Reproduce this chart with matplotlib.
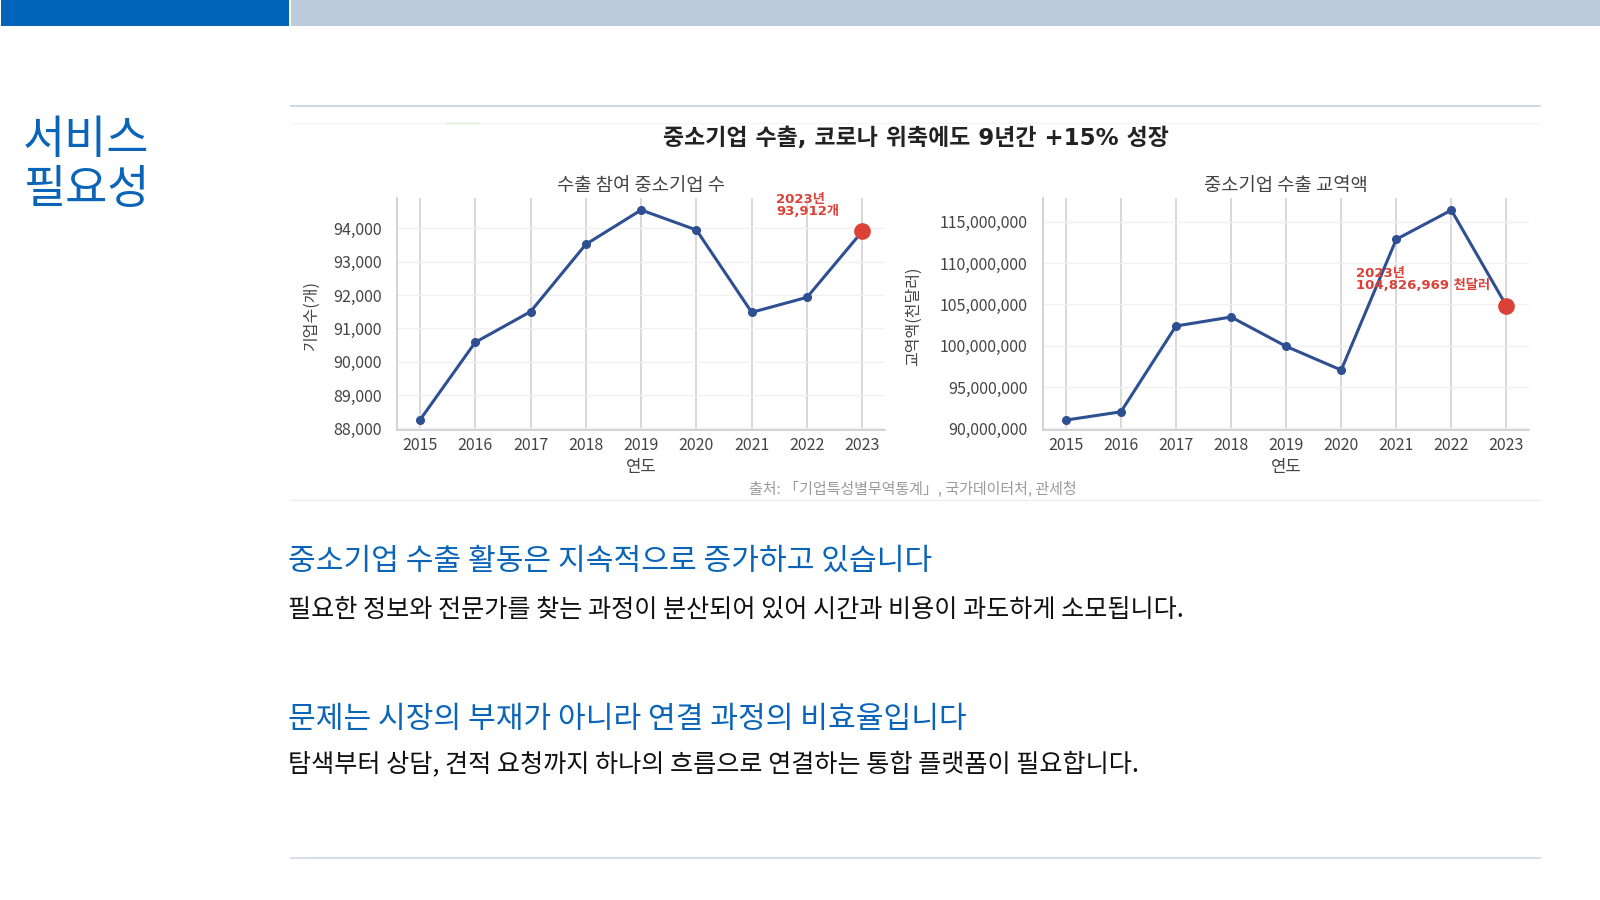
import matplotlib
matplotlib.use('Agg')
import matplotlib.pyplot as plt
from matplotlib.patches import Rectangle
from matplotlib.ticker import FuncFormatter, MultipleLocator

plt.rcParams['font.family'] = ['Noto Sans CJK KR', 'DejaVu Sans']
MIXED = ['DejaVu Sans', 'Noto Sans CJK KR']   # wide latin digits, hangul fallback

# data
years = [2015, 2016, 2017, 2018, 2019, 2020, 2021, 2022, 2023]
firms = [88250, 90580, 91500, 93520, 94550, 93950, 91480, 91930, 93912]
trade = [91.0e6, 92.0e6, 102.38e6, 103.47e6, 99.92e6, 97.05e6, 112.87e6, 116.4e6, 104826969]

page_title = ['서비스', '필요성']
chart_title = '중소기업 수출, 코로나 위축에도 9년간 +15% 성장'
left_title = '수출 참여 중소기업 수'
right_title = '중소기업 수출 교역액'
left_ylabel = '기업수(개)'
right_ylabel = '교역액(천달러)'
xlabel = '연도'
source = '출처: 「기업특성별무역통계」, 국가데이터처, 관세청'
left_note = '2023년\n93,912개'
right_note = '2023년\n104,826,969 천달러'
headings = ['중소기업 수출 활동은 지속적으로 증가하고 있습니다',
            '문제는 시장의 부재가 아니라 연결 과정의 비효율입니다']
bodies = ['필요한 정보와 전문가를 찾는 과정이 분산되어 있어 시간과 비용이 과도하게 소모됩니다.',
          '탐색부터 상담, 견적 요청까지 하나의 흐름으로 연결하는 통합 플랫폼이 필요합니다.']

BLUE = '#0A64B8'
LINE = '#2E4F92'
RED = '#DB4136'
GREY = '#444444'

fig = plt.figure(figsize=(16, 9), dpi=100)
fig.patch.set_facecolor('white')

# page decoration layer in pixel coords
bg = fig.add_axes([0, 0, 1, 1], zorder=-5)
bg.set_xlim(0, 1600)
bg.set_ylim(900, 0)
bg.axis('off')
bg.add_patch(Rectangle((1, 0), 288, 26, color='#0064B8', lw=0))
bg.add_patch(Rectangle((291, 0), 1309, 26, color='#BCCBDB', lw=0))
bg.plot([291, 1540], [106, 106], color='#C9D5E4', lw=1.3)
bg.plot([291, 1540], [123, 123], color='#F3F5F3', lw=1)
bg.plot([446, 480], [123, 123], color='#E2F0DA', lw=1)
bg.plot([291, 1540], [500, 500], color='#E6F2E3', lw=1)
bg.plot([291, 1540], [858, 858], color='#D3DCE8', lw=1.3)

bg.text(23, 140, page_title[0], fontsize=33, color=BLUE, va='center', ha='left')
bg.text(23, 190, page_title[1], fontsize=33, color=BLUE, va='center', ha='left')

bg.text(916, 138, chart_title, fontsize=16.5, fontweight='bold', color='#222222',
        ha='center', va='center', family=MIXED)
bg.text(913, 488, source, fontsize=10.8, color='#9A9A9A', ha='center', va='center')

bg.text(288, 561, headings[0], fontsize=21.7, color=BLUE, va='center', ha='left')
bg.text(288, 610, bodies[0], fontsize=18.1, color='#111111', va='center', ha='left')
bg.text(288, 719, headings[1], fontsize=21.7, color=BLUE, va='center', ha='left')
bg.text(288, 764, bodies[1], fontsize=18.1, color='#111111', va='center', ha='left')


def style_axis(ax, title, ylabel, ylim, ystep, ylabel_x):
    ax.set_xlim(2014.58, 2023.41)
    ax.set_ylim(*ylim)
    ax.set_xticks(years)
    ax.yaxis.set_major_locator(MultipleLocator(ystep))
    ax.yaxis.set_major_formatter(FuncFormatter(lambda v, p: f'{int(round(v)):,}'))
    ax.grid(axis='x', color='#D5D5D5', lw=1.3)
    ax.grid(axis='y', color='#F0F0F0', lw=1)
    ax.set_axisbelow(True)
    for s in ['top', 'right']:
        ax.spines[s].set_visible(False)
    for s in ['left', 'bottom']:
        ax.spines[s].set_color('#CCCCCC')
        ax.spines[s].set_linewidth(1.2)
    ax.tick_params(axis='both', length=0, labelsize=11.5, labelcolor=GREY)
    ax.tick_params(axis='y', pad=11)
    ax.tick_params(axis='x', pad=5)
    ax.set_title(title, fontsize=13.5, color=GREY, pad=5)
    ax.set_xlabel(xlabel, fontsize=12, color=GREY, va='center')
    ax.xaxis.set_label_coords(0.5, -0.162)
    ax.set_ylabel(ylabel, fontsize=11.5, color=GREY, va='center')
    ax.yaxis.set_label_coords(ylabel_x, 0.49)


ax1 = fig.add_axes([396.7 / 1600, 1 - 430 / 900, (885 - 396.7) / 1600, (430 - 198) / 900])
ax1.plot(years, firms, color=LINE, lw=2.2, marker='o', ms=5.5, zorder=3)
ax1.plot(years[-1:], firms[-1:], 'o', color=RED, ms=11, zorder=4)
style_axis(ax1, left_title, left_ylabel, (87950, 94910), 1000, (311 - 396.7) / 488.3)
ax1.annotate(left_note, (years[-1], firms[-1]), xytext=(-62, 18.5), textcoords='offset points',
             fontsize=9.5, fontweight='bold', color=RED, ha='left', va='center',
             linespacing=0.95, family=MIXED)

ax2 = fig.add_axes([1042.7 / 1600, 1 - 430 / 900, (1529 - 1042.7) / 1600, (430 - 198) / 900])
ax2.plot(years, trade, color=LINE, lw=2.2, marker='o', ms=5.5, zorder=3)
ax2.plot(years[-1:], trade[-1:], 'o', color=RED, ms=11, zorder=4)
style_axis(ax2, right_title, right_ylabel, (89.8e6, 117.87e6), 5e6, (913 - 1042.7) / 486.3)
ax2.annotate(right_note, (years[-1], trade[-1]), xytext=(-108.5, 19), textcoords='offset points',
             fontsize=9.5, fontweight='bold', color=RED, ha='left', va='center',
             linespacing=0.95, family=MIXED)

fig.savefig('out.png', dpi=100, facecolor='white')
